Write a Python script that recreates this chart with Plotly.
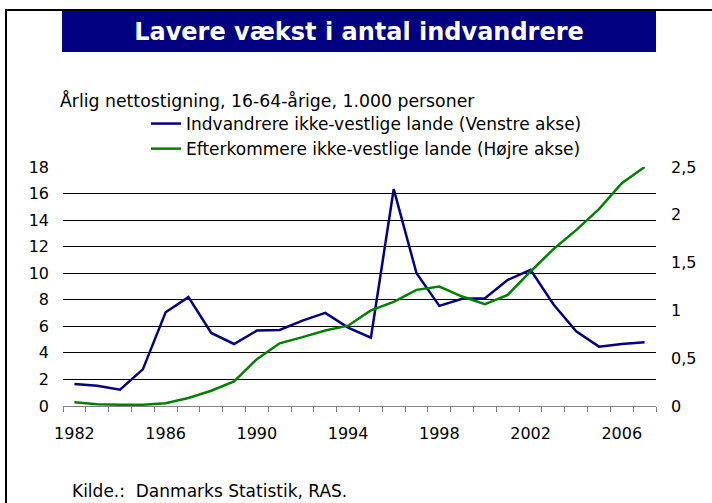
import plotly.graph_objects as go

years = list(range(1982, 2008))
indvandrere = [1.65, 1.53, 1.23, 2.76, 7.06, 8.2, 5.5, 4.67, 5.68, 5.73, 6.43, 7.01, 5.9,
               5.15, 16.33, 10.0, 7.54, 8.07, 8.12, 9.5, 10.25, 7.66, 5.63, 4.47, 4.67, 4.8]
efterkommere = [0.038, 0.017, 0.014, 0.014, 0.028, 0.084, 0.16, 0.258, 0.49, 0.656, 0.72, 0.79, 0.84,
                1.0, 1.09, 1.215, 1.25, 1.145, 1.065, 1.163, 1.407, 1.64, 1.84, 2.06, 2.33, 2.5]
x_tickvals = [1982, 1986, 1990, 1994, 1998, 2002, 2006]
left_ticks = list(range(0, 19, 2))
right_ticks = [0, 0.5, 1, 1.5, 2, 2.5]
right_ticktext = ["0", "0,5", "1", "1,5", "2", "2,5"]

FONT = "DejaVu Sans"
W, H = 712, 503
L, R, T, B = 63, 656, 167, 406

def px_x(p):
    return (p - L) / (R - L)

def px_y(p):
    return (B - p) / (B - T)

fig = go.Figure()
fig.add_trace(go.Scatter(x=years, y=indvandrere, mode="lines",
                         name="Indvandrere ikke-vestlige lande (Venstre akse)",
                         line=dict(color="#000080", width=2.5), yaxis="y"))
fig.add_trace(go.Scatter(x=years, y=efterkommere, mode="lines",
                         name="Efterkommere ikke-vestlige lande (Højre akse)",
                         line=dict(color="#008000", width=2.5), yaxis="y2"))

fig.update_layout(
    width=W, height=H,
    margin=dict(l=L, r=W - R, t=T, b=H - B, autoexpand=False),
    paper_bgcolor="white", plot_bgcolor="white",
    font=dict(family=FONT, size=16, color="black"),
    separators=",.",
    showlegend=True,
    legend=dict(x=px_x(146), y=px_y(106), xanchor="left", yanchor="top",
                bgcolor="rgba(0,0,0,0)", itemwidth=30, tracegroupgap=0,
                font=dict(family=FONT, size=17)),
    title=dict(text="<b>Lavere vækst i antal indvandrere</b>",
               x=359 / W, y=1 - 32 / H, xref="container", yref="container",
               xanchor="center", yanchor="middle",
               font=dict(family=FONT, size=24, color="white")),
    xaxis=dict(range=[1981.5, 2007.5], tickmode="array", tickvals=x_tickvals,
               ticktext=[str(v) for v in x_tickvals], ticks="", showgrid=False,
               showline=True, linecolor="#808080", linewidth=1, zeroline=False,
               ticklabelstandoff=13,
               minor=dict(tick0=1981.5, dtick=1, ticks="outside", ticklen=5,
                          tickcolor="#808080", showgrid=False)),
    yaxis=dict(range=[0, 18], tickmode="array", tickvals=left_ticks,
               showgrid=True, gridcolor="black", gridwidth=1, zeroline=False,
               showline=False, ticks="", ticklabelstandoff=13),
    yaxis2=dict(range=[0, 2.5], tickmode="array", tickvals=right_ticks,
                ticktext=right_ticktext, overlaying="y", side="right",
                showgrid=False, zeroline=False, showline=False, ticks="",
                ticklabelstandoff=14),
    shapes=[
        dict(type="rect", xref="paper", yref="paper",
             x0=px_x(62), x1=px_x(656), y0=px_y(52), y1=px_y(11),
             fillcolor="#000080", line=dict(width=0), layer="below"),
        dict(type="line", xref="paper", yref="paper",
             x0=px_x(6), x1=px_x(720), y0=px_y(10), y1=px_y(10),
             line=dict(color="black", width=2)),
        dict(type="line", xref="paper", yref="paper",
             x0=px_x(6), x1=px_x(6), y0=px_y(9), y1=px_y(520),
             line=dict(color="black", width=2)),
    ],
    annotations=[
        dict(text="Årlig nettostigning, 16-64-årige, 1.000 personer",
             xref="paper", yref="paper", x=px_x(58), y=px_y(100),
             xanchor="left", yanchor="middle", showarrow=False,
             font=dict(family=FONT, size=17.3)),
        dict(text="Kilde.:\u00a0 Danmarks Statistik, RAS.",
             xref="paper", yref="paper", x=px_x(70), y=px_y(491),
             xanchor="left", yanchor="middle", showarrow=False,
             font=dict(family=FONT, size=17)),
    ],
)

fig.write_html("out.html", config={"displayModeBar": False},
               post_script="document.body.style.margin='0';")
